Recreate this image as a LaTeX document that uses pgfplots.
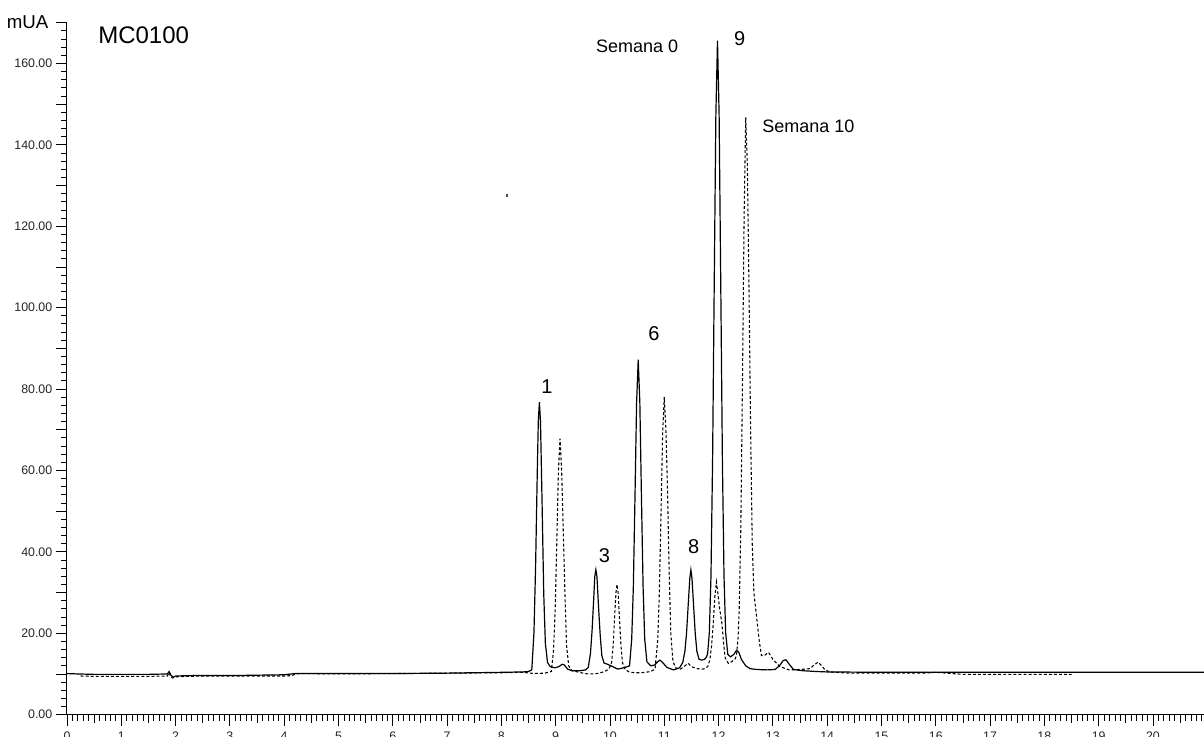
\documentclass[border=0pt]{standalone}
\usepackage{fontspec}
\setmainfont{Liberation Sans}
\usepackage{pgfplots}
\pgfplotsset{compat=1.18}

% Chromatogram, Semana 0 (solid) and Semana 10 (dashed)
\pgfplotstableread{
t     a
0.00  10.1
0.20  10.0
0.50  9.9
1.00  9.9
1.50  9.9
1.85  10.0
1.88  10.6
1.92  9.6
1.96  9.2
2.00  9.5
2.30  9.6
2.70  9.6
3.00  9.6
3.50  9.7
4.00  9.8
4.20  10.1
5.00  10.1
6.00  10.1
7.00  10.2
7.50  10.3
8.00  10.4
8.40  10.5
8.50  10.6
8.56  11.0
8.60  20.2
8.63  36.4
8.66  58.9
8.68  72.1
8.70  76.8
8.72  72.1
8.75  51.6
8.78  29.7
8.81  17.5
8.85  12.8
8.90  11.8
8.98  11.5
9.06  11.8
9.12  12.4
9.16  12.2
9.22  11.2
9.30  10.8
9.45  10.8
9.55  11.0
9.60  11.6
9.64  15.0
9.67  20.6
9.70  28.4
9.72  33.9
9.74  35.6
9.76  33.9
9.79  26.3
9.82  19.5
9.85  14.5
9.89  12.7
9.95  12.4
10.02 12.0
10.08 11.6
10.14 11.2
10.22 11.4
10.32 11.8
10.36 12.0
10.40 18.5
10.43 31.2
10.46 53.1
10.49 76.6
10.52 87.2
10.55 76.6
10.58 53.1
10.61 31.2
10.64 18.5
10.68 13.0
10.75 12.0
10.82 12.2
10.88 13.0
10.92 13.4
10.97 12.8
11.05 11.6
11.17 11.0
11.28 11.5
11.34 12.8
11.38 15.6
11.41 20.0
11.44 26.8
11.47 33.5
11.49 35.6
11.51 33.5
11.54 26.8
11.57 20.0
11.60 15.6
11.64 13.6
11.69 13.4
11.74 13.6
11.78 14.2
11.80 15.2
11.83 20.2
11.86 34.0
11.89 62.9
11.92 106.0
11.95 147.3
11.98 165.6
12.01 147.3
12.04 106.0
12.07 62.9
12.10 34.0
12.13 20.2
12.17 14.8
12.22 14.2
12.28 14.8
12.33 15.8
12.37 15.4
12.42 13.6
12.50 12.0
12.58 11.3
12.70 11.1
12.90 11.0
13.04 11.1
13.12 12.0
13.19 13.3
13.24 13.5
13.30 12.4
13.38 11.1
13.55 10.8
13.80 10.6
14.00 10.5
15.00 10.4
16.00 10.4
17.00 10.4
18.00 10.4
19.00 10.4
20.00 10.4
20.94 10.4
}\semanacero

\pgfplotstableread{
t     b
0.25  9.5
0.50  9.4
1.00  9.4
1.50  9.4
1.85  9.5
1.88  10.4
1.91  9.3
1.95  9.0
2.00  9.3
2.20  9.4
2.50  9.5
3.00  9.5
3.50  9.5
4.00  9.5
4.15  9.6
4.20  10.0
4.30  10.1
5.00  10.0
6.00  10.1
7.00  10.2
8.00  10.3
8.40  10.4
8.60  10.1
8.80  10.2
8.92  10.6
8.96  15.8
8.99  25.4
9.02  42.0
9.05  59.8
9.08  67.8
9.11  59.8
9.14  45.0
9.17  30.0
9.20  17.0
9.24  12.0
9.30  10.8
9.40  10.5
9.50  10.2
9.60  10.0
9.70  10.0
9.80  10.2
9.90  10.6
9.98  11.2
10.03 12.8
10.06 17.3
10.085 23.8
10.11 30.0
10.13 32.0
10.15 30.0
10.175 23.8
10.20 17.3
10.23 12.8
10.28 11.1
10.35 10.5
10.45 10.3
10.55 10.3
10.65 10.4
10.75 10.6
10.83 11.2
10.88 18.4
10.91 30.4
10.94 49.5
10.97 69.3
11.00 78.0
11.03 70.0
11.06 55.0
11.09 35.0
11.12 20.0
11.16 13.0
11.22 11.4
11.30 11.2
11.38 12.0
11.44 12.6
11.50 11.8
11.60 11.3
11.72 11.2
11.80 11.8
11.84 13.5
11.87 16.8
11.90 22.0
11.93 28.8
11.96 32.6
11.99 29.5
12.02 26.0
12.06 22.5
12.09 18.0
12.12 14.0
12.18 12.6
12.24 13.0
12.30 13.6
12.33 14.5
12.36 19.0
12.38 26.0
12.41 46.0
12.44 82.0
12.47 122.0
12.50 146.7
12.53 135.0
12.56 105.0
12.59 70.0
12.62 42.0
12.65 30.0
12.70 24.0
12.75 18.0
12.79 14.5
12.85 14.6
12.92 15.3
13.00 13.6
13.13 11.8
13.30 11.0
13.50 11.1
13.68 11.3
13.76 12.2
13.83 12.9
13.90 12.0
13.96 11.0
14.05 10.5
14.40 10.2
15.00 10.2
15.50 10.2
15.80 10.2
16.00 10.4
16.50 9.9
17.00 9.9
18.00 9.9
18.50 9.9
}\semanadiez

\begin{document}
\begin{tikzpicture}
\begin{axis}[
  scale only axis,
  width=852.75pt, height=519pt,
  xmin=0, xmax=20.94, ymin=0, ymax=170,
  axis x line=bottom, axis y line=left,
  axis line style={-, line width=0.75pt, black},
  clip=false,
  tick align=outside,
  major tick length=8.5pt, minor tick length=4.5pt,
  every tick/.style={black, line width=0.6pt},
  xtick={0,1,...,20},
  minor xtick={0,0.1,...,20.9},
  extra x ticks={0.5,1.5,...,20.5},
  extra x tick labels={},
  extra x tick style={major tick length=6pt},
  ytick={0,20,...,160},
  minor ytick={0,2,...,170},
  extra y ticks={10,30,...,170},
  extra y tick labels={},
  /pgf/number format/assume math mode=true,
  ticklabel style={font=\fontsize{9.3}{10}\selectfont, text=black!85},
  yticklabel style={/pgf/number format/fixed, /pgf/number format/fixed zerofill, /pgf/number format/precision=2, xshift=1pt},
  xticklabel style={yshift=-1pt},
]
\addplot[black, line width=0.9pt] table[x=t, y=a] {\semanacero};
\addplot[black, line width=0.8pt, dash pattern=on 2.2pt off 1.6pt] table[x=t, y=b] {\semanadiez};
\addplot[only marks, mark=square*, mark size=0.7pt, black!70] coordinates {(8.10,127.7)};

\node[anchor=base east, font=\fontsize{14}{16}\selectfont] at (axis cs:0,170) [xshift=-10.5pt, yshift=-4.5pt] {mUA};
\node[anchor=base west, font=\fontsize{18}{20}\selectfont, inner sep=0pt] at (axis cs:0.571,164.8) {MC0100};
\node[anchor=base west, font=\fontsize{13.5}{15}\selectfont, inner sep=0pt] at (axis cs:9.74,162.7) {Semana 0};
\node[anchor=base west, font=\fontsize{13.5}{15}\selectfont, inner sep=0pt] at (axis cs:12.80,143.1) {Semana 10};
\begin{scope}[every node/.style={anchor=base, font=\fontsize{15}{17}\selectfont, inner sep=0pt}]
\node at (axis cs:8.84,78.9) {1};
\node at (axis cs:9.90,37.4) {3};
\node at (axis cs:10.81,91.9) {6};
\node at (axis cs:11.54,39.6) {8};
\node at (axis cs:12.39,164.4) {9};
\end{scope}
\end{axis}
\pgfresetboundingbox
\path ([xshift=-50.25pt, yshift=-16.1pt]current axis.south west) rectangle ([yshift=17pt]current axis.north east);
\end{tikzpicture}
\end{document}
